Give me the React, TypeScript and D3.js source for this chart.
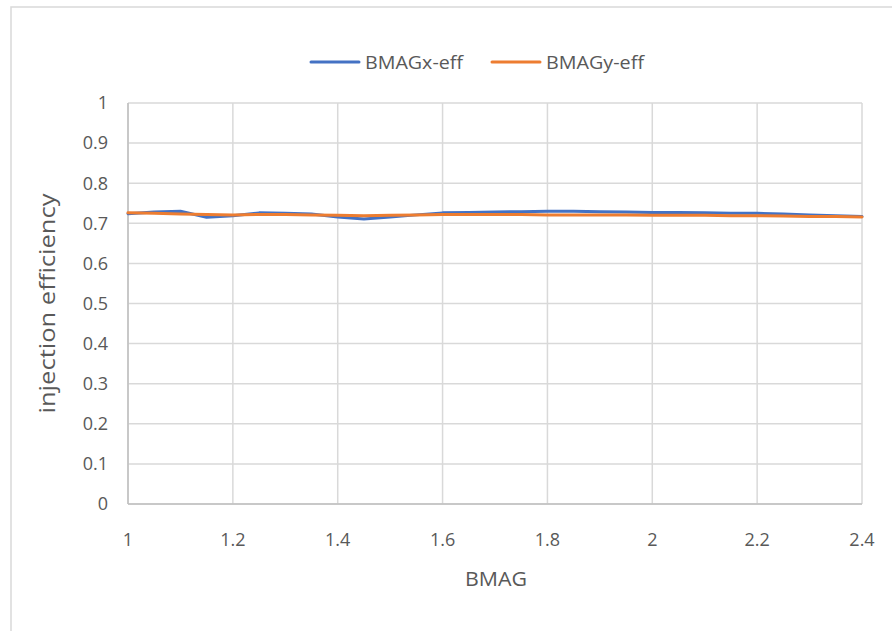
import React from "react";
import * as d3 from "d3";

const xValues = [1.0, 1.05, 1.1, 1.15, 1.2, 1.25, 1.3, 1.35, 1.4, 1.45, 1.5, 1.55, 1.6, 1.65, 1.7, 1.75, 1.8, 1.85, 1.9, 1.95, 2.0, 2.05, 2.1, 2.15, 2.2, 2.25, 2.3, 2.35, 2.4];
const bmagX = [0.724, 0.728, 0.730, 0.715, 0.719, 0.726, 0.725, 0.723, 0.716, 0.711, 0.716, 0.721, 0.726, 0.727, 0.728, 0.729, 0.730, 0.730, 0.729, 0.728, 0.727, 0.727, 0.726, 0.725, 0.725, 0.723, 0.721, 0.719, 0.717];
const bmagY = [0.726, 0.725, 0.723, 0.722, 0.721, 0.722, 0.722, 0.721, 0.720, 0.719, 0.720, 0.721, 0.722, 0.722, 0.722, 0.722, 0.721, 0.721, 0.721, 0.721, 0.720, 0.720, 0.720, 0.719, 0.719, 0.718, 0.717, 0.717, 0.716];
const xTicks = [1, 1.2, 1.4, 1.6, 1.8, 2, 2.2, 2.4];
const yTicks = [0, 0.1, 0.2, 0.3, 0.4, 0.5, 0.6, 0.7, 0.8, 0.9, 1];
const seriesNames = ["BMAGx-eff", "BMAGy-eff"];
const seriesColors = ["#4472C4", "#ED7D31"];

export default function App() {
  const W = 892, H = 631;
  const x = d3.scaleLinear().domain([1, 2.4]).range([128, 862]);
  const y = d3.scaleLinear().domain([0, 1]).range([504, 103]);
  const line = d3.line<number>().x((_, i) => x(xValues[i])).y((d) => y(d));
  const font = "'Open Sans', sans-serif";
  const textColor = "#595959";
  const series = [bmagX, bmagY];
  const legendX = [311, 492];
  return (
    <svg width={W} height={H} style={{ position: "absolute", left: 0, top: 0 }} fontFamily={font}>
      <rect x={0} y={0} width={W} height={H} fill="#fff" />
      <rect x={11} y={7} width={W + 20} height={H + 20} fill="none" stroke="#d9d9d9" strokeWidth={1.5} />
      {yTicks.map((t) => (
        <line key={"gy" + t} x1={x(1)} x2={x(2.4)} y1={y(t)} y2={y(t)} stroke="#d9d9d9" strokeWidth={1.5} />
      ))}
      {xTicks.map((t) => (
        <line key={"gx" + t} x1={x(t)} x2={x(t)} y1={y(0)} y2={y(1)} stroke="#d9d9d9" strokeWidth={1.5} />
      ))}
      <line x1={x(1)} x2={x(1)} y1={y(0)} y2={y(1)} stroke="#bfbfbf" strokeWidth={1.5} />
      <line x1={x(1)} x2={x(2.4)} y1={y(0)} y2={y(0)} stroke="#bfbfbf" strokeWidth={1.5} />
      {yTicks.map((t) => (
        <text key={"ty" + t} x={108} y={y(t)} dy="0.35em" textAnchor="end" fontSize={18} fill={textColor}>
          {String(t)}
        </text>
      ))}
      {xTicks.map((t) => (
        <text key={"tx" + t} x={x(t)} y={540} dy="0.35em" textAnchor="middle" fontSize={18} fill={textColor}>
          {String(t)}
        </text>
      ))}
      <text x={465} y={579} dy="0.35em" fontSize={20} fill={textColor} textLength={62} lengthAdjust="spacingAndGlyphs">BMAG</text>
      <text transform={`translate(47,${(y(0) + y(1)) / 2}) rotate(-90)`} dy="0.35em" textAnchor="middle" fontSize={22} fill={textColor} textLength={220} lengthAdjust="spacingAndGlyphs">
        injection efficiency
      </text>
      {series.map((s, i) => (
        <path key={"s" + i} d={line(s) || ""} fill="none" stroke={seriesColors[i]} strokeWidth={3} strokeLinejoin="round" strokeLinecap="round" />
      ))}
      {seriesNames.map((n, i) => (
        <g key={"lg" + i}>
          <line x1={legendX[i]} x2={legendX[i] + 48} y1={62} y2={62} stroke={seriesColors[i]} strokeWidth={3} strokeLinecap="round" />
          <text x={legendX[i] + 54} y={62} dy="0.35em" fontSize={19} fill={textColor} textLength={98} lengthAdjust="spacingAndGlyphs">{n}</text>
        </g>
      ))}
    </svg>
  );
}
